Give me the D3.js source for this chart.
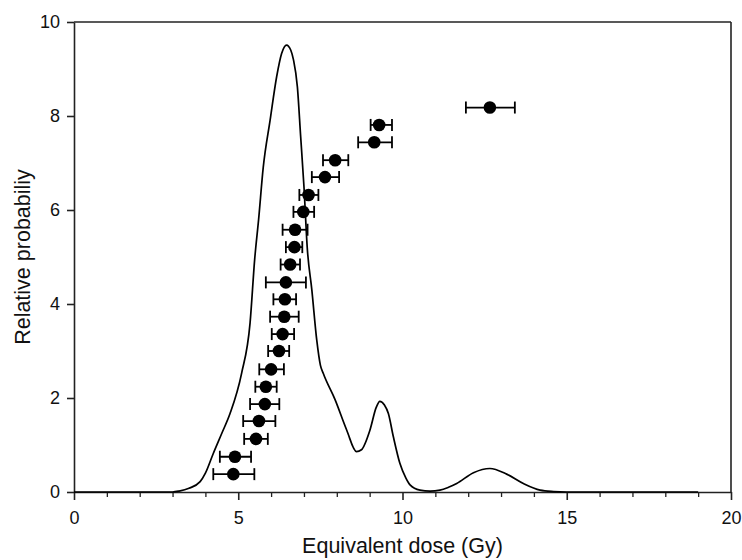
<!DOCTYPE html>
<html>
<head>
<meta charset="utf-8">
<script src="https://cdn.jsdelivr.net/npm/d3@7"></script>
<style>
  html, body { margin: 0; padding: 0; background: #fff; }
  svg { display: block; }
  text { font-family: "Liberation Sans", Arial, sans-serif; fill: #111; }
</style>
</head>
<body>
<svg id="chart" width="742" height="560"></svg>
<script>
// ---- data ----
const doseValues = [4.85, 4.90, 5.54, 5.63, 5.81, 5.84, 6.00, 6.24, 6.35, 6.40, 6.42, 6.45, 6.58, 6.71, 6.73, 6.98, 7.14, 7.64, 7.95, 9.14, 9.29, 12.66];
const doseLow    = [4.24, 4.44, 5.18, 5.15, 5.36, 5.52, 5.64, 5.91, 6.02, 5.97, 6.07, 5.84, 6.29, 6.45, 6.35, 6.68, 6.86, 7.24, 7.58, 8.65, 9.03, 11.93];
const doseHigh   = [5.49, 5.39, 5.90, 6.13, 6.25, 6.17, 6.39, 6.55, 6.70, 6.84, 6.76, 7.06, 6.88, 6.95, 7.11, 7.31, 7.44, 8.07, 8.35, 9.68, 9.68, 13.42];
const rankY      = [0.38, 0.75, 1.13, 1.51, 1.87, 2.24, 2.61, 3.00, 3.36, 3.73, 4.10, 4.46, 4.84, 5.21, 5.58, 5.96, 6.32, 6.70, 7.06, 7.44, 7.81, 8.18];

const curveX = [0, 1, 2, 3, 3.2, 3.5, 3.84, 4.0, 4.24, 4.5, 4.75, 5.1, 5.36, 5.5, 5.62, 5.76, 5.97, 6.17, 6.32, 6.47, 6.6, 6.68, 6.8, 6.9, 7.0, 7.1, 7.24, 7.39, 7.5, 7.59, 7.95, 8.3, 8.6, 8.75, 9.01, 9.2, 9.31, 9.45, 9.57, 9.72, 9.92, 10.1, 10.23, 10.53, 10.84, 11.14, 11.4, 11.65, 12.16, 12.66, 13.17, 13.68, 14.19, 14.6, 15, 16, 17, 18, 19];
const curveY = [0, 0, 0, 0, 0.02, 0.08, 0.22, 0.4, 0.82, 1.25, 1.67, 2.52, 3.6, 4.95, 5.8, 6.9, 7.91, 8.84, 9.33, 9.51, 9.4, 9.2, 8.62, 7.56, 6.5, 5.2, 4.3, 3.23, 2.7, 2.52, 1.96, 1.32, 0.86, 0.9, 1.32, 1.8, 1.93, 1.85, 1.67, 1.18, 0.61, 0.3, 0.15, 0.04, 0.02, 0.04, 0.1, 0.18, 0.41, 0.50, 0.38, 0.18, 0.04, 0.01, 0, 0, 0, 0, 0];

const xMajorTicks = [0, 5, 10, 15, 20];
const yMajorTicks = [0, 2, 4, 6, 8, 10];

// ---- layout ----
const svg = d3.select("#chart");
const pLeft = 74, pRight = 731, pTop = 22, pBottom = 492;

const x = d3.scaleLinear().domain([0, 20]).range([pLeft, pRight]);
const y = d3.scaleLinear().domain([0, 10]).range([pBottom, pTop]);

const axisColor = "#222";
const fontFam = "'Liberation Sans', Arial, sans-serif";

// frame (top and right)
svg.append("line").attr("x1", pLeft).attr("x2", pRight).attr("y1", pTop).attr("y2", pTop)
  .attr("stroke", axisColor).attr("stroke-width", 1.6);
svg.append("line").attr("x1", pRight).attr("x2", pRight).attr("y1", pTop).attr("y2", pBottom)
  .attr("stroke", axisColor).attr("stroke-width", 1.6);

// x axis: minor ticks
const xMinor = d3.range(0, 21).filter(v => v % 5 !== 0);
const gxMinor = svg.append("g").attr("transform", `translate(0,${pBottom})`)
  .call(d3.axisBottom(x).tickValues(xMinor).tickSize(5).tickFormat(""));
gxMinor.select(".domain").remove();
gxMinor.selectAll(".tick line").attr("stroke", axisColor).attr("stroke-width", 1.3);

const gx = svg.append("g").attr("transform", `translate(0,${pBottom})`)
  .call(d3.axisBottom(x).tickValues(xMajorTicks).tickSize(8).tickSizeOuter(0).tickPadding(11).tickFormat(d3.format("d")));
gx.select(".domain").attr("stroke", axisColor).attr("stroke-width", 1.6);
gx.selectAll(".tick line").attr("stroke", axisColor).attr("stroke-width", 1.6);
gx.selectAll(".tick text").attr("font-size", 18).attr("fill", "#111").style("font-family", fontFam);

// y axis
const gy = svg.append("g").attr("transform", `translate(${pLeft},0)`)
  .call(d3.axisLeft(y).tickValues(yMajorTicks).tickSize(7).tickSizeOuter(0).tickPadding(7).tickFormat(d3.format("d")));
gy.select(".domain").attr("stroke", axisColor).attr("stroke-width", 1.6);
gy.selectAll(".tick line").attr("stroke", axisColor).attr("stroke-width", 1.6);
gy.selectAll(".tick text").attr("font-size", 18).attr("fill", "#111").style("font-family", fontFam);

// axis titles
svg.append("text").attr("x", (pLeft + pRight) / 2).attr("y", 553)
  .attr("text-anchor", "middle").attr("font-size", 21.5).text("Equivalent dose (Gy)");
svg.append("text").attr("transform", `translate(30,${(pTop + pBottom) / 2}) rotate(-90)`)
  .attr("text-anchor", "middle").attr("font-size", 21.5).text("Relative probabiliy");

// probability curve
const curveData = curveX.map((v, i) => [v, curveY[i]]);
svg.append("path").datum(curveData)
  .attr("fill", "none").attr("stroke", "#000").attr("stroke-width", 1.7)
  .attr("d", d3.line().x(d => x(d[0])).y(d => y(d[1])).curve(d3.curveMonotoneX));

// error bars + points
const pts = doseValues.map((v, i) => ({ v, lo: doseLow[i], hi: doseHigh[i], r: rankY[i] }));
const g = svg.append("g");
const capH = 6;
pts.forEach(p => {
  g.append("line").attr("x1", x(p.lo)).attr("x2", x(p.hi)).attr("y1", y(p.r)).attr("y2", y(p.r))
    .attr("stroke", "#000").attr("stroke-width", 1.8);
  [p.lo, p.hi].forEach(e => {
    g.append("line").attr("x1", x(e)).attr("x2", x(e)).attr("y1", y(p.r) - capH).attr("y2", y(p.r) + capH)
      .attr("stroke", "#000").attr("stroke-width", 1.8);
  });
});
g.selectAll("circle").data(pts).enter().append("circle")
  .attr("cx", d => x(d.v)).attr("cy", d => y(d.r)).attr("r", 6.3).attr("fill", "#000");
</script>
</body>
</html>
